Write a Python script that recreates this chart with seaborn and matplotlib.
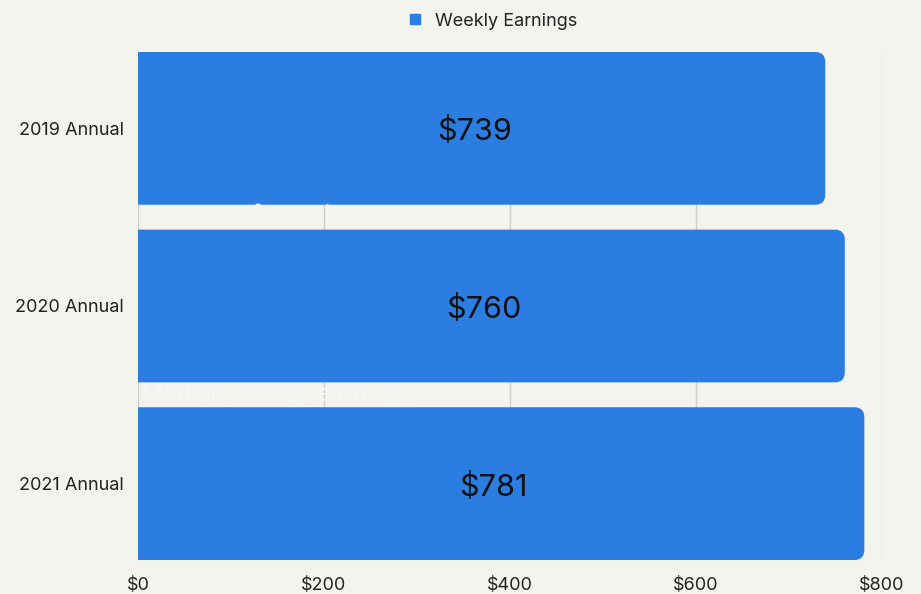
import pandas as pd
import seaborn as sns
import matplotlib.pyplot as plt
from matplotlib.patches import FancyBboxPatch

# Data
periods = ["2019 Annual", "2020 Annual", "2021 Annual"]
earnings = [739, 760, 781]
x_ticks = [0, 200, 400, 600, 800]

df = pd.DataFrame({"Period": periods, "Weekly Earnings": earnings})

bg = "#f4f4ef"
blue = "#2b7de1"

sns.set_theme(style="white")
plt.rcParams["font.family"] = ["Inter", "DejaVu Sans"]

fig = plt.figure(figsize=(9.21, 5.94), dpi=100, facecolor=bg)
ax = fig.add_axes([138 / 921, 1 - 560 / 594, 744 / 921, 508 / 594])
ax.set_facecolor(bg)

sns.barplot(data=df, x="Weekly Earnings", y="Period", color=blue,
            width=0.86, saturation=1, ax=ax, zorder=2)

ax.set_xlim(0, 800)
ax.set_ylim(2.5 - 0.07, -0.5 + 0.07)

# swap the square bars for ones with rounded right corners
px_x = 744 / 800
px_y = 508 / (ax.get_ylim()[0] - ax.get_ylim()[1])
r = 10 / px_x
for p in list(ax.patches):
    x0, y0, w, h = p.get_x(), p.get_y(), p.get_width(), p.get_height()
    p.remove()
    box = FancyBboxPatch((x0 - 30, y0), w + 30, h,
                         boxstyle=f"round,pad=0,rounding_size={r}",
                         mutation_aspect=px_x / px_y,
                         facecolor=blue, edgecolor="none", zorder=2)
    box.set_clip_on(True)
    ax.add_patch(box)
    ax.text(x0 + w / 2 - 8, y0 + h / 2 + 0.02, f"${w:.0f}", ha="center",
            va="center", fontsize=22, color="#111111", zorder=3)

# grid lines
for t in x_ticks:
    ax.axvline(t, color="#cfcfcb", lw=1, zorder=1)

ax.set_xticks(x_ticks)
ax.set_xticklabels([f"${t}" for t in x_ticks])
ax.tick_params(axis="both", length=0, labelsize=13, colors="#222222")
ax.tick_params(axis="x", pad=12)
ax.tick_params(axis="y", pad=10)
ax.set_xlabel("")
ax.set_ylabel("")
for s in ax.spines.values():
    s.set_visible(False)

# faint hidden text in the gaps
fig.text(252 / 921, 1 - 215 / 594, "for males", fontsize=17,
         color="#f6f6f2", va="center", ha="left", zorder=0)
fig.text(142 / 921, 1 - 395 / 594, "Median weekly earnings", fontsize=17,
         color="#f6f6f2", va="center", ha="left", zorder=0)

# legend
fig.legend(handles=[plt.Line2D([], [], marker="s", ls="", color=blue,
                               markersize=7)],
           labels=["Weekly Earnings"], loc="center",
           bbox_to_anchor=(0.529, 1 - 21 / 594),
           frameon=False, fontsize=13, handletextpad=0.1, labelcolor="#222222")

fig.savefig("out.png", dpi=100, facecolor=bg)
